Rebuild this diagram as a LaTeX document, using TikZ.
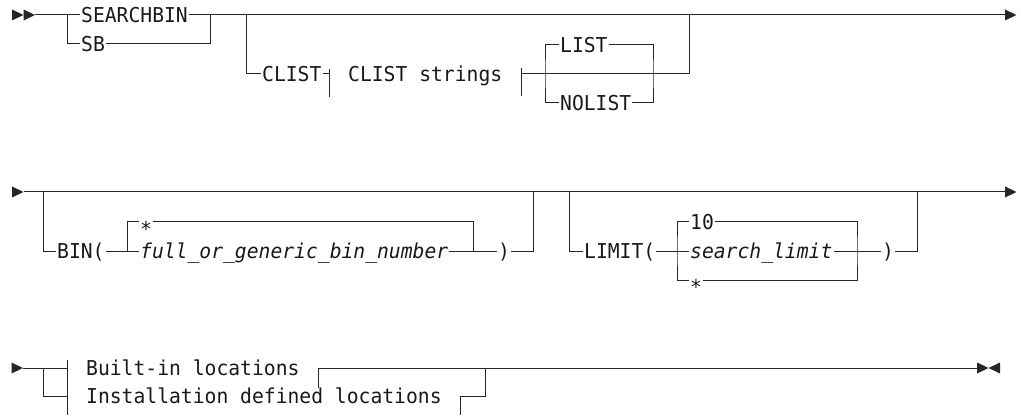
\documentclass[tikz,border=0pt]{standalone}
\usepackage{fontspec}
\setmonofont[FakeStretch=0.96]{DejaVu Sans Mono}
\usepackage{tikz}
\usetikzlibrary{positioning,calc}
\newcommand{\tipR}[1]{\fill[black!85] ([yshift=5.5pt]#1) -- ([xshift=11.5pt]#1) -- ([yshift=-5.5pt]#1) -- cycle;}
\newcommand{\tipL}[1]{\fill[black!85] ([yshift=5.5pt]#1) -- ([xshift=-11.5pt]#1) -- ([yshift=-5.5pt]#1) -- cycle;}
\newcommand{\lowstar}{\raisebox{-7pt}{*}}

\begin{document}
\begin{tikzpicture}[x=1pt, y=-1pt,
    rail/.style={line width=1pt, draw=black!85},
    kw/.style={inner sep=0pt, inner xsep=1pt, anchor=west, text height=14.9pt, text depth=0pt, text=black!90, font=\fontsize{20.5pt}{24pt}\selectfont\ttfamily},
    var/.style={kw, font=\fontsize{20.5pt}{24pt}\selectfont\ttfamily\itshape},
    frag/.style={kw, inner xsep=19pt}
]
\useasboundingbox (0,0) rectangle (1021,417);
% row 1
\coordinate (r1s) at (12,15);
\coordinate (r1a) at (23.5,15);
\coordinate (r1b) at (67,15);
\coordinate (r1c) at (210,15);
\coordinate (r1d) at (246,15);
\coordinate (r1e) at (689,15);
\coordinate (r1f) at (545,74);
\coordinate (r1g) at (653,74);
\coordinate (r1z) at (1005,15);
\node[kw] (searchbin) at (80,15) {SEARCHBIN};
\node[kw] (sb) at (80,44) {SB};
\node[kw] (clist) at (261,74) {CLIST};
\node[frag] (clistfrag) at (329,74) {CLIST strings};
\node[kw] (list) at (559,45) {LIST};
\node[kw] (nolist) at (559,103) {NOLIST};
\tipR{r1s}
\tipR{r1a}
\draw[rail] ([xshift=11.5pt]r1a) -- (searchbin.west);
\draw[rail] (searchbin.east) -- (r1z);
\draw[rail] (r1b) |- (sb.west);
\draw[rail] (sb.east) -| (r1c);
\draw[rail] (r1d) |- (clist.west);
\draw[rail] (clist.east) -- (clistfrag.west);
\draw[rail] ([yshift=5pt]clistfrag.west) -- ([yshift=-23pt]clistfrag.west);
\draw[rail] ([yshift=6pt]clistfrag.east) -- ([yshift=-22pt]clistfrag.east);
\draw[rail] (clistfrag.east) -| (r1e);
\draw[rail] (list.west) -| (r1f) |- (nolist.west);
\draw[rail] (list.east) -| (r1g) |- (nolist.east);
\tipR{r1z}
% row 2
\coordinate (r2s) at (12,192);
\coordinate (r2a) at (23.5,192);
\coordinate (r2b) at (43,192);
\coordinate (r2c) at (533,192);
\coordinate (r2d) at (127,251);
\coordinate (r2e) at (473,251);
\coordinate (r2f) at (569,192);
\coordinate (r2g) at (917,192);
\coordinate (r2h) at (677,251);
\coordinate (r2i) at (857,251);
\coordinate (r2z) at (1005,192);
\node[kw] (bin) at (56,251) {BIN(};
\node[kw] (binstar) at (139,222) {\lowstar};
\node[var] (binnum) at (139,251) {full\_or\_generic\_bin\_number};
\node[kw] (binclose) at (497,251) {)};
\node[kw] (limit) at (583,251) {LIMIT(};
\node[kw] (ten) at (689,222) {10};
\node[var] (slimit) at (689,251) {search\_limit};
\node[kw] (limstar) at (689,280) {\lowstar};
\node[kw] (limclose) at (881,251) {)};
\tipR{r2s}
\draw[rail] (r2a) -- (r2z);
\draw[rail] (r2b) |- (bin.west);
\draw[rail] (bin.east) -- (binnum.west);
\draw[rail] (binstar.west) -| (r2d);
\draw[rail] (binstar.east) -| (r2e);
\draw[rail] (binnum.east) -- (binclose.west);
\draw[rail] (binclose.east) -| (r2c);
\draw[rail] (r2f) |- (limit.west);
\draw[rail] (limit.east) -- (slimit.west);
\draw[rail] (ten.west) -| (r2h) |- (limstar.west);
\draw[rail] (ten.east) -| (r2i) |- (limstar.east);
\draw[rail] (slimit.east) -- (limclose.west);
\draw[rail] (limclose.east) -| (r2g);
\tipR{r2z}
% row 3
\coordinate (r3s) at (11.5,368);
\coordinate (r3a) at (23,368);
\coordinate (r3b) at (43,368);
\coordinate (r3c) at (485,368);
\coordinate (r3z) at (977,368);
\coordinate (r3y) at (1000,368);
\node[frag] (builtin) at (67,368) {Built-in locations};
\node[frag] (instdef) at (67,396) {Installation defined locations};
\tipR{r3s}
\draw[rail] (r3a) -- (builtin.west);
\draw[rail] (r3b) |- (instdef.west);
\draw[rail] ([yshift=8pt]builtin.west) -- ([yshift=-19pt]instdef.west);
\draw[rail] (builtin.east) -- ([yshift=-20pt]builtin.east);
\draw[rail] (instdef.east) -- ([yshift=-19pt]instdef.east);
\draw[rail] (builtin.east) -- (r3z);
\draw[rail] (instdef.east) -| (r3c);
\tipR{r3z}
\tipL{r3y}
\end{tikzpicture}
\end{document}
